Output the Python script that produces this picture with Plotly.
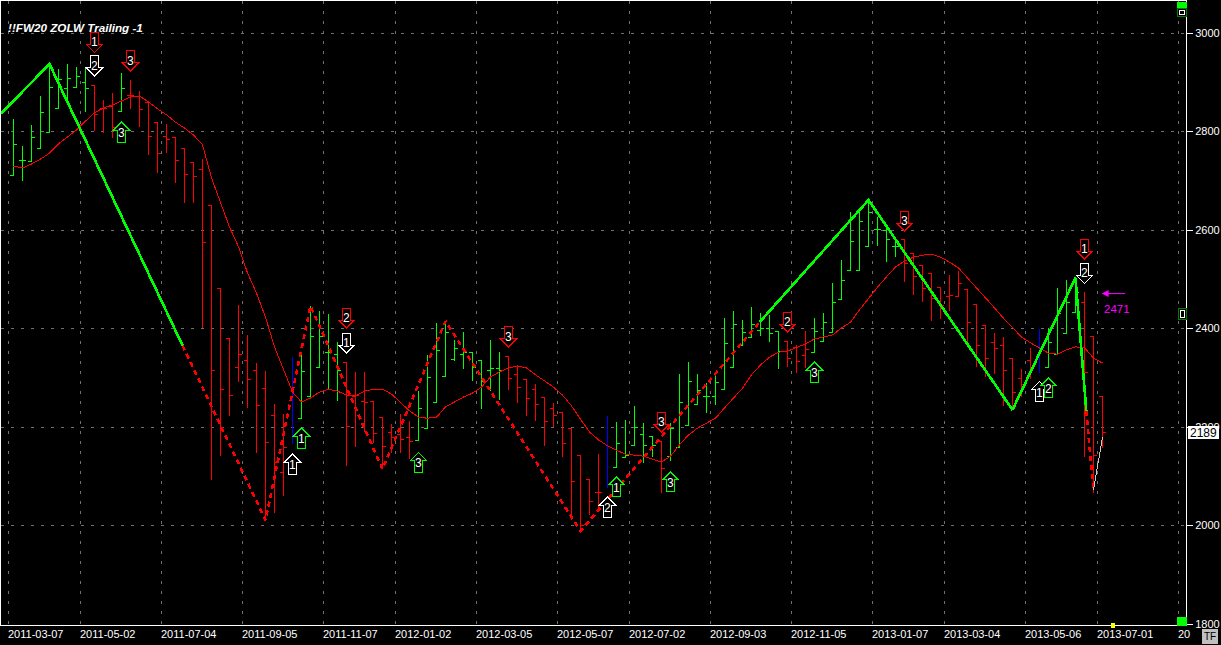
import plotly.graph_objects as go

# ---------- data ----------
bar_state = list("G" * 9 + "R" * 3 + "G" + "R" * 18 + "B" + "G" * 5 + "R" * 8 + "G" * 10 + "R" * 11 + "B" + "G" * 5 + "R"
                 + "G" * 13 + "R" * 3 + "G" * 10 + "R" * 15 + "B" + "G" * 4 + "R" * 3)
high = [2825,2771,2813,2872,2937,2927,2937,2931,2929,2894,2864,2878,2919,2905,2882,2858,2819,2815,2787,2765,2738,2744,
        2649,2482,2379,2448,2387,2330,2314,2247,2227,2342,2348,2446,2436,2430,2373,2332,2312,2312,2251,2220,2206,2227,2212,
        2273,2346,2411,2415,2377,2393,2352,2336,2377,2352,2344,2326,2296,2287,2261,2249,2229,2198,2143,2093,2145,2223,2210,
        2214,2243,2208,2180,2170,2208,2308,2332,2308,2290,2312,2421,2436,2417,2444,2432,2428,2395,2373,2367,2395,2421,2432,
        2492,2539,2637,2639,2661,2626,2608,2586,2580,2553,2529,2511,2484,2509,2517,2480,2448,2407,2391,2383,2340,2318,2361,
        2399,2401,2482,2499,2503,2474,2383,2263]
low = [2710,2700,2740,2765,2799,2846,2862,2890,2840,2801,2797,2787,2840,2846,2809,2752,2716,2756,2696,2655,2655,2401,
       2093,2141,2223,2292,2239,2147,2011,2026,2060,2166,2218,2263,2322,2275,2253,2121,2160,2190,2168,2115,2147,2147,2135,
       2172,2198,2249,2302,2334,2318,2294,2237,2273,2255,2275,2249,2223,2212,2162,2200,2139,2011,1989,2022,2030,2078,2119,
       2139,2162,2127,2139,2066,2131,2158,2204,2245,2229,2245,2277,2322,2365,2381,2385,2373,2318,2322,2310,2320,2352,2373,
       2393,2460,2517,2517,2566,2568,2535,2545,2495,2468,2454,2415,2419,2436,2466,2363,2322,2302,2308,2243,2235,2261,2298,
       2310,2322,2348,2391,2432,2139,2066,2158]
open_ = [2710,2742,2740,2765,2799,2846,2888,2890,2900,2894,2846,2850,2840,2874,2872,2858,2819,2789,2787,2765,2738,2722,
         2649,2482,2379,2322,2336,2314,2279,2223,2107,2166,2218,2263,2322,2352,2348,2332,2263,2251,2251,2220,2190,2184,2178,
         2172,2198,2249,2302,2338,2348,2352,2336,2314,2318,2344,2306,2296,2277,2261,2237,2229,2198,2143,2093,2068,2078,2119,
         2139,2162,2184,2180,2170,2141,2158,2204,2245,2263,2263,2277,2322,2365,2381,2397,2401,2395,2373,2361,2346,2352,2373,
         2393,2460,2517,2517,2566,2602,2600,2566,2580,2553,2529,2511,2484,2466,2466,2480,2448,2407,2371,2365,2340,2298,2336,
         2310,2322,2348,2391,2432,2452,2383,2263]
close = [2773,2742,2787,2838,2890,2905,2907,2911,2888,2834,2846,2809,2888,2874,2844,2789,2756,2783,2742,2712,2708,2574,
         2314,2277,2265,2348,2296,2243,2168,2129,2158,2271,2312,2383,2383,2352,2314,2202,2265,2249,2188,2160,2178,2174,2170,
         2237,2300,2356,2393,2359,2352,2322,2292,2318,2314,2298,2281,2259,2245,2212,2223,2166,2089,2000,2048,2068,2162,2166,
         2143,2200,2162,2162,2115,2198,2249,2292,2275,2263,2290,2369,2409,2393,2409,2401,2391,2354,2340,2334,2357,2395,2413,
         2452,2497,2576,2618,2635,2602,2580,2566,2533,2505,2482,2462,2446,2468,2492,2413,2365,2340,2359,2314,2271,2287,2320,
         2356,2371,2430,2452,2474,2310,2143,2189]
moving_avg = [2730,2726,2734,2744,2756,2775,2789,2803,2821,2838,2848,2854,2862,2870,2872,2860,2846,2834,2819,2807,2793,2773,
              2706,2655,2606,2566,2513,2472,2423,2363,2316,2271,2251,
              2259,2271,2277,2273,2265,2263,2273,2277,2277,2267,2251,2233,2220,2218,2220,2241,2251,2261,2269,2281,
              2302,2312,2320,2324,2320,2306,2294,2281,2265,2243,2216,2190,2174,2162,2153,2145,2143,2141,2135,2129,
              2141,2164,2184,2198,2208,2218,2239,2259,2279,2306,
              2326,2342,2352,2354,2361,2369,2379,2383,2387,
              2401,2413,2438,2462,2484,2505,2525,2537,2545,2549,2551,2545,2535,2523,2503,2484,2462,2442,
              2421,2401,2383,2371,2361,2350,2348,2357,2363,2361,2340,2330]

green_zig_1_x = [-1.4, 4, 18.8]
green_zig_1_y = [2836, 2937, 2365]
red_zig_x = [18.8, 28, 33, 41, 48, 63, 82.9]
red_zig_y = [2365, 2011, 2446, 2115, 2415, 1989, 2413]
green_zig_2_x = [82.9, 95, 111, 118, 119.2]
green_zig_2_y = [2413, 2661, 2235, 2503, 2233]
red_zig_2_x = [119.2, 120]
red_zig_2_y = [2233, 2072]
grey_zig_x = [120, 121]
grey_zig_y = [2072, 2180]

sig_x = [9, 9, 13, 12, 32, 31, 37, 37, 45, 55, 66, 67, 73, 72, 86, 89, 99, 119, 119, 114, 115]
sig_price = [2961, 2913, 2923, 2819, 2198, 2145, 2401, 2350, 2149, 2363, 2058, 2099, 2109, 2190, 2393, 2332, 2598, 2541, 2492, 2292, 2300]
sig_colour = ["r", "w", "r", "g", "g", "w", "r", "w", "g", "r", "w", "g", "g", "r", "r", "g", "r", "r", "w", "w", "g"]
sig_label = ["1", "2", "3", "3", "1", "1", "2", "1", "3", "3", "2", "1", "3", "3", "2", "3", "3", "1", "2", "1", "2"]
sig_dir = ["d", "d", "d", "u", "u", "u", "d", "d", "u", "d", "u", "u", "u", "d", "d", "u", "d", "d", "d", "u", "u"]

grid_pos = [-0.58, 7.42, 16.42, 25.42, 34.42, 42.42, 51.42, 60.42, 68.42, 77.42, 86.42, 95.42, 103.42, 112.42, 120.42, 129.42]
grid_text = ["2011-03-07", "2011-05-02", "2011-07-04", "2011-09-05", "2011-11-07", "2012-01-02", "2012-03-05", "2012-05-07",
             "2012-07-02", "2012-09-03", "2012-11-05", "2013-01-07", "2013-03-04", "2013-05-06", "2013-07-01", "20"]
price_ticks = [1800, 2000, 2200, 2400, 2600, 2800, 3000]
title_text = "!!FW20 ZOLW Trailing -1"
pointer_value = 2471
last_value = 2189

# ---------- styling ----------
GREEN = "#00ff00"
RED = "#ff0000"
BLUE = "#0000ff"
WHITE = "#ffffff"
GRID = "#707070"
FONT = "Liberation Sans"
ink = {"r": RED, "w": WHITE, "g": GREEN}
W, H = 1221, 645
L, R, T, B = 1, 1186, 1, 625


def xp(px):
    return (px - L) / (R - L)


def yp(py):
    return (B - py) / (B - T)


fig = go.Figure()

n = len(high)
for state, col, tw in (("G", GREEN, 0.37), ("R", RED, 0.37), ("B", BLUE, 0.0105)):
    idx = [i for i in range(n) if bar_state[i] == state]
    fig.add_trace(go.Ohlc(
        x=idx,
        open=[open_[i] for i in idx], high=[high[i] for i in idx],
        low=[low[i] for i in idx], close=[close[i] for i in idx],
        increasing=dict(line=dict(color=col, width=1)),
        decreasing=dict(line=dict(color=col, width=1)),
        tickwidth=tw, hoverinfo="skip", showlegend=False))

fig.add_trace(go.Scatter(x=list(range(n)), y=moving_avg, mode="lines",
                         line=dict(color=RED, width=1), hoverinfo="skip", showlegend=False))
for xs, ys, col, wd, dash in ((red_zig_x, red_zig_y, RED, 2.6, "5px,4px"),
                              (red_zig_2_x, red_zig_2_y, RED, 2.6, "5px,4px"),
                              (green_zig_1_x, green_zig_1_y, GREEN, 2.6, "solid"),
                              (green_zig_2_x, green_zig_2_y, GREEN, 2.6, "solid"),
                              (grey_zig_x, grey_zig_y, "#c8c8c8", 1, "solid")):
    fig.add_trace(go.Scatter(x=xs, y=ys, mode="lines", line=dict(color=col, width=wd, dash=dash),
                             hoverinfo="skip", showlegend=False))

shapes = []
annotations = []
DOWN = "M-4,20 L4,20 L4,8 L8,8 L0,0 L-8,8 L-4,8 Z"
UP = "M-4,-20 L4,-20 L4,-8 L8,-8 L0,0 L-8,-8 L-4,-8 Z"
for x, p, d, c, t in zip(sig_x, sig_price, sig_dir, sig_colour, sig_label):
    shapes.append(dict(type="path", xref="x", yref="y", xsizemode="pixel", ysizemode="pixel",
                       xanchor=x, yanchor=p, path=DOWN if d == "d" else UP,
                       line=dict(color=ink[c], width=1), fillcolor="#000000", layer="above"))
    annotations.append(dict(x=x, y=p, xref="x", yref="y", text=t, showarrow=False,
                            yshift=10 if d == "d" else -11,
                            font=dict(family=FONT, size=12, color=WHITE)))

for g, t in zip(grid_pos, grid_text):
    annotations.append(dict(x=g, y=0, xref="x", yref="paper", text=t, showarrow=False, xanchor="left", yanchor="top",
                            xshift=-2, yshift=-1, font=dict(family=FONT, size=11, color=WHITE)))

annotations.append(dict(x=xp(8), y=yp(28), xref="paper", yref="paper", text="<b><i>%s</i></b>" % title_text,
                        showarrow=False, xanchor="left", yanchor="middle", xshift=-2,
                        font=dict(family=FONT, size=11.7, color=WHITE)))
annotations.append(dict(x=120.9, y=pointer_value, xref="x", yref="y", text="", showarrow=True, ax=25, ay=0,
                        arrowhead=2, arrowsize=1.4, arrowwidth=1, arrowcolor="#ff00ff"))
annotations.append(dict(x=120.9, y=pointer_value, xref="x", yref="y", text=str(pointer_value), showarrow=False,
                        xanchor="left", yshift=-15, font=dict(family=FONT, size=11.5, color="#ff00ff")))
annotations.append(dict(x=xp(1188), y=last_value, xref="paper", yref="y", text=str(last_value), showarrow=False,
                        xanchor="left", bgcolor=WHITE, borderpad=0, borderwidth=0, width=31, height=13,
                        font=dict(family=FONT, size=12, color="#000000")))
annotations.append(dict(x=xp(1202), y=yp(636), xref="paper", yref="paper", text="TF", showarrow=False, xanchor="left",
                        yanchor="middle", bgcolor="#c0c0c0", borderpad=0, borderwidth=0, width=16, height=15,
                        font=dict(family=FONT, size=10, color="#000000")))


def box(x0, y0, x1, y1, fill, line=None):
    shapes.append(dict(type="rect", xref="paper", yref="paper", x0=xp(x0), x1=xp(x1), y0=yp(y0), y1=yp(y1),
                       fillcolor=fill, line=dict(color=line or fill, width=1), layer="above"))


box(1177, 2, 1186, 8, GREEN)
box(1177, 8, 1186, 16, "#000000", "#008000")
box(1179, 10, 1184, 14, "#000000", WHITE)
box(1177, 617, 1186, 625, GREEN)
box(1178, 308, 1186, 319, "#000000", "#008000")
box(1180, 310, 1184, 317, "#000000", WHITE)
box(1111, 623, 1114, 627, "#ffff00")

fig.update_layout(
    width=W, height=H, autosize=False,
    margin=dict(l=L, r=W - R, t=T, b=H - B, pad=0),
    paper_bgcolor="#000000", plot_bgcolor="#000000",
    showlegend=False, shapes=shapes, annotations=annotations,
    font=dict(family=FONT, color=WHITE),
    xaxis=dict(range=[-1.389, 130.278], tickvals=grid_pos, showticklabels=False, showgrid=True,
               gridcolor=GRID, griddash="3px,7px", gridwidth=1, zeroline=False, showline=True,
               linecolor=WHITE, linewidth=1, mirror=True, ticks="", rangeslider=dict(visible=False)),
    yaxis=dict(range=[1798.25, 3064.97], side="right", tickvals=price_ticks, ticktext=[str(v) for v in price_ticks],
               showgrid=True, gridcolor=GRID, griddash="3px,7px", gridwidth=1, zeroline=False, showline=True,
               linecolor=WHITE, linewidth=1, mirror=True, ticks="outside", ticklen=6, tickcolor=WHITE, tickwidth=1,
               tickfont=dict(family=FONT, size=11, color=WHITE)),
)

crisp = ("var c=function(){document.querySelectorAll('.trace path,.shapelayer path').forEach(function(p){"
         "p.style.shapeRendering='crispEdges';});};c();setTimeout(c,100);"
         "document.body.style.margin='0';document.body.style.background='#000';document.body.style.overflow='hidden';")
fig.write_html("out.html", config={"displayModeBar": False}, post_script=crisp)
